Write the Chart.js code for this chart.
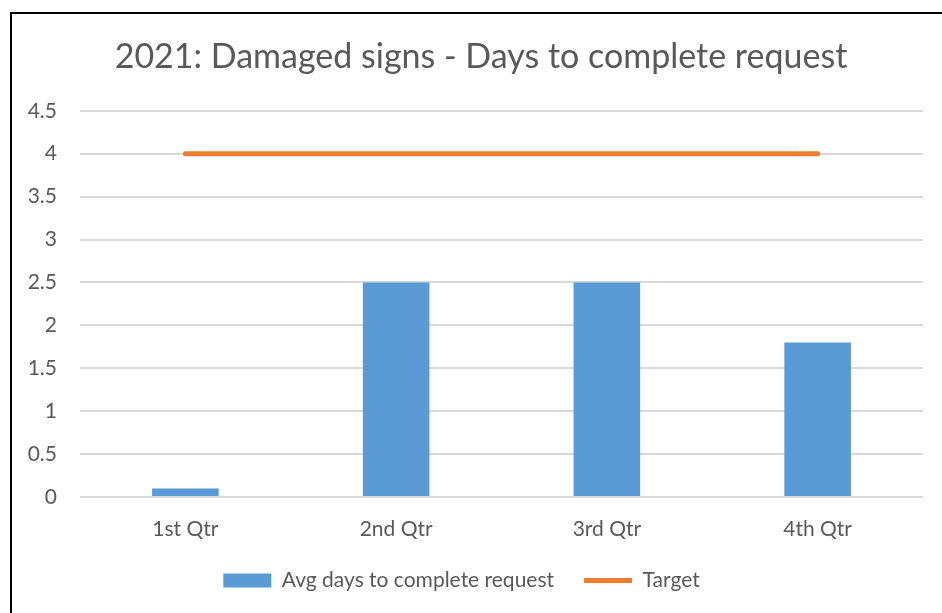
<!DOCTYPE html>
<html>
<head>
<meta charset="utf-8">
<script src="https://cdn.jsdelivr.net/npm/chart.js@4"></script>
<style>
    html, body { margin: 0; padding: 0; background: #fff; }
    #wrap { position: relative; width: 942px; height: 613px; overflow: hidden; }
    #frame { position: absolute; left: 10px; top: 12px; width: 940px; height: 700px;
             border-left: 2px solid #000; border-top: 2px solid #000; }
    #chart { position: absolute; left: 0; top: 0; }
</style>
</head>
<body>
<div id="wrap">
    <div id="frame"></div>
    <canvas id="chart" width="942" height="613"></canvas>
</div>
<script>
// 2021 damaged signs — quarterly averages vs target

const quarters = ['1st Qtr', '2nd Qtr', '3rd Qtr', '4th Qtr'];
const avgDays = [0.1, 2.5, 2.5, 1.8];
const target = [4, 4, 4, 4];
const yTicks = [0, 0.5, 1, 1.5, 2, 2.5, 3, 3.5, 4, 4.5];

const textGray = '#595959';
const fontFamily = 'Lato, "Open Sans", sans-serif';

Chart.defaults.font.family = fontFamily;
Chart.defaults.color = textGray;

// title sits centred on the outer frame, not on the canvas
const titleShift = {
    id: 'titleShift',
    afterLayout(chart) {
        chart.titleBlock.left += 39;
    }
};

const ctx = document.getElementById('chart').getContext('2d');

new Chart(ctx, {
    type: 'bar',
    data: {
        labels: quarters,
        datasets: [
            {
                type: 'bar',
                label: 'Avg days to complete request',
                data: avgDays,
                backgroundColor: '#5B9BD5',
                borderWidth: 0,
                categoryPercentage: 1,
                barPercentage: 0.316,
                pointStyle: 'rect',
                order: 2
            },
            {
                type: 'line',
                label: 'Target',
                data: target,
                borderColor: '#ED7D31',
                backgroundColor: '#ED7D31',
                borderWidth: 5,
                borderCapStyle: 'round',
                pointRadius: 0,
                pointStyle: 'line',
                fill: false,
                order: 1
            }
        ]
    },
    options: {
        responsive: false,
        animation: false,
        layout: { padding: { left: 0, right: 19, top: 0, bottom: 12 } },
        plugins: {
            title: {
                display: true,
                text: '2021: Damaged signs - Days to complete request',
                color: textGray,
                font: { size: 34, weight: 'normal' },
                padding: { top: 37, bottom: 33 }
            },
            legend: {
                position: 'bottom',
                labels: {
                    usePointStyle: true,
                    pointStyleWidth: 48,
                    boxHeight: 14,
                    padding: 30,
                    color: textGray,
                    font: { size: 21 },
                    sort: (a, b) => a.datasetIndex - b.datasetIndex
                }
            },
            tooltip: { enabled: false }
        },
        scales: {
            x: {
                grid: { display: false, drawTicks: false },
                border: { display: false },
                afterFit: (scale) => { scale.height = 43; },
                ticks: { padding: 20, color: textGray, font: { size: 21 } }
            },
            y: {
                min: 0,
                max: 4.5,
                afterBuildTicks: (scale) => {
                    scale.ticks = yTicks.map(v => ({ value: v }));
                },
                afterFit: (scale) => { scale.width = 80; },
                grid: { color: '#D9D9D9', lineWidth: 2, drawTicks: false },
                border: { display: false },
                ticks: {
                    padding: 23,
                    color: textGray,
                    font: { size: 21 },
                    callback: (v) => String(v)
                }
            }
        }
    },
    plugins: [titleShift]
});
</script>
</body>
</html>
